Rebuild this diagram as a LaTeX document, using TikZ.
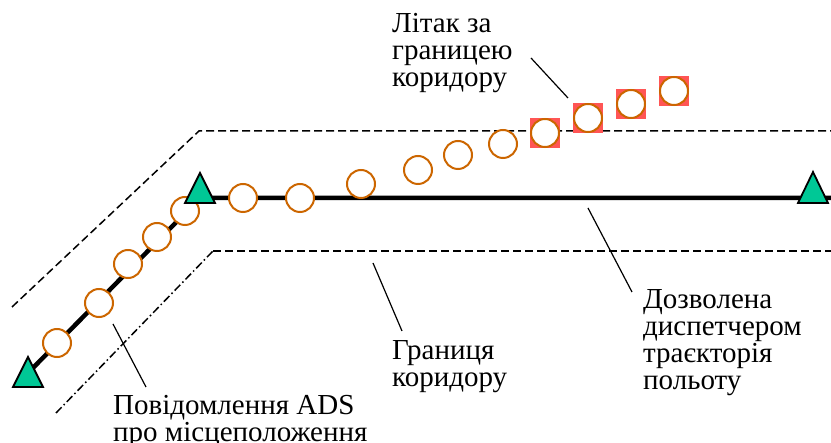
\documentclass[tikz,border=0pt]{standalone}
\usepackage{fontspec}
\setmainfont{Liberation Serif}
\definecolor{trig}{RGB}{0,200,150}
\definecolor{orng}{RGB}{204,102,0}
\definecolor{sqred}{RGB}{255,85,85}
\begin{document}
\begin{tikzpicture}[x=1pt,y=-1pt,
  corr/.style={line width=1.5pt,dash pattern=on 8pt off 4pt},
  corrdd/.style={line width=1.5pt,dash pattern=on 8pt off 3pt on 1.5pt off 3pt},
  route/.style={line width=4.5pt},
  posrep/.style={circle,draw=orng,fill=white,line width=2pt,minimum size=28pt,inner sep=0pt},
  bad/.style={rectangle,fill=sqred,minimum size=30pt,inner sep=0pt},
  tri/.style={fill=trig,draw=black,line width=1.8pt,line join=miter},
  lead/.style={line width=1.2pt},
  lbl/.style={font=\fontsize{29}{27}\selectfont,align=left,anchor=base west,inner sep=0pt}]
\useasboundingbox (0,0) rectangle (831,443);
% corridor boundaries
\coordinate (u1) at (12,307); \coordinate (u2) at (199,131); \coordinate (u3) at (831,131);
\coordinate (d1) at (56,413); \coordinate (d2) at (213,251); \coordinate (d3) at (831,251);
\draw[corr] (u1) -- (u2) -- (u3);
\draw[corrdd] (d1) -- (d2);
\draw[corr] (d2) -- (d3);
% cleared route
\coordinate (w1) at (28,373); \coordinate (w2) at (200,198); \coordinate (w3) at (831,198);
\draw[route] (w1) -- (w2) -- (w3);
% off-corridor squares
\node[bad] (s1) at (545,133) {};
\node[bad] (s2) at (588,118) {};
\node[bad] (s3) at (631,104) {};
\node[bad] (s4) at (674,91) {};
% position reports
\foreach \n/\x/\y in {c1/57/343,c2/99/303,c3/128/264,c4/157/237,c5/185/211,c6/243/198,c7/300/198,c8/361/184,c9/418/170,c10/458/155,c11/503/144,c12/545/133,c13/588/118,c14/631/104,c15/674/91}
  \node[posrep] (\n) at (\x,\y) {};
% waypoints
\path[tri] (13,387) -- (28,357) -- (43,387) -- cycle;
\path[tri] (185,203) -- (200,173) -- (215,203) -- cycle;
\path[tri] (798,203) -- (813,172) -- (828,203) -- cycle;
% labels (anchored at the baseline of the last line)
\node[lbl] (t1) at (392,87) {Літак за\\границею\\коридору};
\node[lbl] (t2) at (643,390) {Дозволена\\диспетчером\\траєкторія\\польоту};
\node[lbl] (t3) at (392,387) {Границя\\коридору};
\node[lbl] (t4) at (113,442) {Повідомлення ADS\\про місцеположення};
% leaders
\coordinate (a1) at (531,58); \coordinate (b1) at (568,98);
\coordinate (a2) at (588,208); \coordinate (b2) at (632,292);
\coordinate (a3) at (373,263); \coordinate (b3) at (402,331);
\coordinate (a4) at (113,324); \coordinate (b4) at (146,387);
\draw[lead] (a1) -- (b1);
\draw[lead] (a2) -- (b2);
\draw[lead] (a3) -- (b3);
\draw[lead] (a4) -- (b4);
\end{tikzpicture}
\end{document}
